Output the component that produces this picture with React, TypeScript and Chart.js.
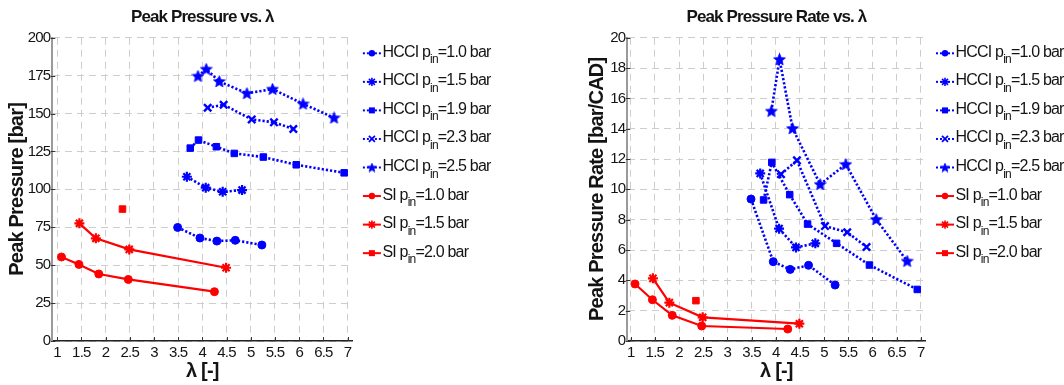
import React, { useEffect, useRef } from 'react';
import { Chart, registerables } from 'chart.js';

Chart.register(...registerables);

const FONT = "'Liberation Sans', Arial, Helvetica, sans-serif";
const BLUE = '#0000ff';
const RED = '#ff0000';
const TEXT = '#141414';

// ---- data (λ, peak pressure [bar], peak pressure rate [bar/CAD]) ----
const hcci10Lambda = [3.49, 3.95, 4.30, 4.68, 5.23];
const hcci10Pmax = [74.9, 67.9, 65.9, 66.4, 63.3];
const hcci10Rate = [9.36, 5.23, 4.72, 4.99, 3.69];

const hcci15Lambda = [3.68, 4.07, 4.42, 4.82];
const hcci15Pmax = [108.3, 101.1, 98.4, 99.5];
const hcci15Rate = [11.05, 7.41, 6.17, 6.44];

const hcci19Lambda = [3.75, 3.92, 4.29, 4.66, 5.26, 5.94, 6.93];
const hcci19Pmax = [127.2, 132.5, 128.1, 123.7, 121.3, 116.2, 110.9];
const hcci19Rate = [9.30, 11.78, 9.65, 7.71, 6.44, 5.01, 3.40];

const hcci23Lambda = [4.11, 4.44, 5.02, 5.48, 5.88];
const hcci23Pmax = [153.8, 155.8, 146.1, 144.2, 139.8];
const hcci23Rate = [11.0, 11.91, 7.58, 7.17, 6.20];

const hcci25Lambda = [3.91, 4.08, 4.35, 4.92, 5.45, 6.08, 6.72];
const hcci25Pmax = [174.7, 179.3, 171.2, 163.3, 166.1, 156.4, 147.2];
const hcci25Rate = [15.16, 18.57, 14.02, 10.33, 11.65, 8.02, 5.27];

const si10Lambda = [1.09, 1.45, 1.86, 2.47, 4.25];
const si10Pmax = [55.4, 50.5, 44.2, 40.6, 32.5];
const si10Rate = [3.76, 2.72, 1.69, 0.99, 0.79];

const si15Lambda = [1.46, 1.80, 2.49, 4.49];
const si15Pmax = [77.6, 67.7, 60.4, 48.3];
const si15Rate = [4.13, 2.53, 1.56, 1.14];

const si20Lambda = [2.35];
const si20Pmax = [87.0];
const si20Rate = [2.66];

const seriesNames = ['HCCI', 'HCCI', 'HCCI', 'HCCI', 'HCCI', 'SI', 'SI', 'SI'];
const seriesPin = ['1.0', '1.5', '1.9', '2.3', '2.5', '1.0', '1.5', '2.0'];

const xTickStep = 0.5;
const xMaxValue = 7.1;
const pressureMax = 200;
const pressureStep = 25;
const rateMax = 20;
const rateStep = 2;

type Marker = 'circle' | 'asterisk' | 'square' | 'x' | 'star5';

interface Series {
  name: string;
  pin: string;
  lambda: number[];
  pmax: number[];
  rate: number[];
  color: string;
  dotted: boolean;
  marker: Marker;
}

const SERIES: Series[] = [
  { name: seriesNames[0], pin: seriesPin[0], lambda: hcci10Lambda, pmax: hcci10Pmax, rate: hcci10Rate, color: BLUE, dotted: true, marker: 'circle' },
  { name: seriesNames[1], pin: seriesPin[1], lambda: hcci15Lambda, pmax: hcci15Pmax, rate: hcci15Rate, color: BLUE, dotted: true, marker: 'asterisk' },
  { name: seriesNames[2], pin: seriesPin[2], lambda: hcci19Lambda, pmax: hcci19Pmax, rate: hcci19Rate, color: BLUE, dotted: true, marker: 'square' },
  { name: seriesNames[3], pin: seriesPin[3], lambda: hcci23Lambda, pmax: hcci23Pmax, rate: hcci23Rate, color: BLUE, dotted: true, marker: 'x' },
  { name: seriesNames[4], pin: seriesPin[4], lambda: hcci25Lambda, pmax: hcci25Pmax, rate: hcci25Rate, color: BLUE, dotted: true, marker: 'star5' },
  { name: seriesNames[5], pin: seriesPin[5], lambda: si10Lambda, pmax: si10Pmax, rate: si10Rate, color: RED, dotted: false, marker: 'circle' },
  { name: seriesNames[6], pin: seriesPin[6], lambda: si15Lambda, pmax: si15Pmax, rate: si15Rate, color: RED, dotted: false, marker: 'asterisk' },
  { name: seriesNames[7], pin: seriesPin[7], lambda: si20Lambda, pmax: si20Pmax, rate: si20Rate, color: RED, dotted: false, marker: 'square' },
];

function makeStarCanvas(color: string, size: number): HTMLCanvasElement {
  const c = document.createElement('canvas');
  c.width = size;
  c.height = size;
  const g = c.getContext('2d')!;
  const cx = size / 2;
  const cy = size / 2 + 0.4;
  const R = size / 2 - 0.3;
  const r = R * 0.45;
  g.beginPath();
  for (let k = 0; k < 10; k++) {
    const a = -Math.PI / 2 + (k * Math.PI) / 5;
    const rad = k % 2 === 0 ? R : r;
    const px = cx + rad * Math.cos(a);
    const py = cy + rad * Math.sin(a);
    if (k === 0) g.moveTo(px, py);
    else g.lineTo(px, py);
  }
  g.closePath();
  g.fillStyle = color;
  g.fill();
  g.strokeStyle = color;
  g.lineWidth = 0.8;
  g.stroke();
  return c;
}

function drawLegendMarker(ctx: CanvasRenderingContext2D, marker: Marker, x: number, y: number, color: string, star: HTMLCanvasElement) {
  ctx.save();
  ctx.fillStyle = color;
  ctx.strokeStyle = color;
  ctx.setLineDash([]);
  if (marker === 'circle') {
    ctx.beginPath();
    ctx.arc(x, y, 3.2, 0, Math.PI * 2);
    ctx.fill();
  } else if (marker === 'square') {
    ctx.fillRect(x - 3, y - 3, 6, 6);
  } else if (marker === 'asterisk') {
    ctx.lineWidth = 1.6;
    const r = 4.2;
    ctx.beginPath();
    for (let k = 0; k < 4; k++) {
      const a = (k * Math.PI) / 4;
      ctx.moveTo(x - r * Math.cos(a), y - r * Math.sin(a));
      ctx.lineTo(x + r * Math.cos(a), y + r * Math.sin(a));
    }
    ctx.stroke();
  } else if (marker === 'x') {
    ctx.lineWidth = 1.8;
    const d = 3;
    ctx.beginPath();
    ctx.moveTo(x - d, y - d);
    ctx.lineTo(x + d, y + d);
    ctx.moveTo(x - d, y + d);
    ctx.lineTo(x + d, y - d);
    ctx.stroke();
  } else {
    ctx.drawImage(star, x - star.width / 2, y - star.height / 2);
  }
  ctx.restore();
}

function pointProps(marker: Marker, star: HTMLCanvasElement): any {
  switch (marker) {
    case 'circle':
      return { pointStyle: 'circle', pointRadius: 4, pointBorderWidth: 1 };
    case 'asterisk':
      return { pointStyle: 'star', pointRadius: 5, pointBorderWidth: 2.2 };
    case 'square':
      return { pointStyle: 'rect', pointRadius: 4.6, pointBorderWidth: 1 };
    case 'x':
      return { pointStyle: 'crossRot', pointRadius: 5.2, pointBorderWidth: 2.4 };
    default:
      return { pointStyle: star, pointRadius: 6, pointBorderWidth: 0 };
  }
}

interface PanelConfig {
  title: string;
  yTitle: string;
  valueKey: 'pmax' | 'rate';
  yMax: number;
  yStep: number;
  xMin: number;
  yAxisWidth: number;
  yTitlePad: number;
  padRight: number;
}

function buildChart(canvas: HTMLCanvasElement, cfg: PanelConfig): Chart {
  const starBig = makeStarCanvas(BLUE, 13);
  const starSmall = makeStarCanvas(BLUE, 10);

  const datasets = SERIES.map((s) => ({
    label: `${s.name} p_in=${s.pin} bar`,
    data: s.lambda.map((x, i) => ({ x, y: s[cfg.valueKey][i] })),
    showLine: s.lambda.length > 1,
    borderColor: s.color,
    backgroundColor: s.color,
    pointBackgroundColor: s.color,
    pointBorderColor: s.color,
    borderWidth: s.dotted ? 2.6 : 2.2,
    borderDash: s.dotted ? [2.2, 2] : [],
    tension: 0,
    clip: false as any,
    ...pointProps(s.marker, starBig),
  }));

  const overlay = {
    id: 'overlay',
    beforeDraw(chart: any) {
      chart.ctx.letterSpacing = '-0.8px';
    },
    afterDraw(chart: any) {
      const ctx: CanvasRenderingContext2D = chart.ctx;
      const ca = chart.chartArea;
      const xs = chart.scales.x;
      const ys = chart.scales.y;
      ctx.save();
      ctx.setLineDash([]);
      // inward tick marks
      ctx.strokeStyle = '#333';
      ctx.lineWidth = 1;
      xs.ticks.forEach((t: any) => {
        const px = Math.round(xs.getPixelForValue(t.value)) + 0.5;
        ctx.beginPath();
        ctx.moveTo(px, ca.bottom);
        ctx.lineTo(px, ca.bottom - 4);
        ctx.stroke();
      });
      ys.ticks.forEach((t: any) => {
        const py = Math.round(ys.getPixelForValue(t.value)) + 0.5;
        ctx.beginPath();
        ctx.moveTo(ca.left - 1.5, py);
        ctx.lineTo(ca.left + 3, py);
        ctx.stroke();
      });
      // title
      (ctx as any).letterSpacing = '-0.9px';
      ctx.font = `bold 17px ${FONT}`;
      ctx.fillStyle = TEXT;
      ctx.textAlign = 'center';
      ctx.textBaseline = 'middle';
      ctx.fillText(cfg.title, (ca.left + ca.right) / 2, 17.5);
      // legend
      (ctx as any).letterSpacing = '-0.8px';
      SERIES.forEach((s, i) => {
        const y = 53.3 + i * 28.55;
        const x0 = ca.right + 10.5;
        ctx.save();
        ctx.strokeStyle = s.color;
        ctx.lineWidth = 2;
        ctx.setLineDash(s.dotted ? [2, 2] : []);
        ctx.beginPath();
        ctx.moveTo(x0, y);
        ctx.lineTo(x0 + 18, y);
        ctx.stroke();
        ctx.restore();
        drawLegendMarker(ctx, s.marker, x0 + 9, y, s.color, starSmall);
        ctx.textAlign = 'left';
        ctx.textBaseline = 'alphabetic';
        ctx.fillStyle = TEXT;
        let tx = ca.right + 30;
        ctx.font = `16px ${FONT}`;
        const t1 = `${s.name} p`;
        ctx.fillText(t1, tx, y + 3.5);
        tx += ctx.measureText(t1).width;
        ctx.font = `12px ${FONT}`;
        ctx.fillText('in', tx, y + 10);
        tx += ctx.measureText('in').width;
        ctx.font = `16px ${FONT}`;
        ctx.fillText(`=${s.pin} bar`, tx, y + 3.5);
      });
      ctx.restore();
    },
  };

  return new Chart(canvas, {
    type: 'scatter',
    data: { datasets: datasets as any },
    options: {
      responsive: false,
      animation: false,
      devicePixelRatio: 1,
      events: [],
      layout: { padding: { left: 0, right: cfg.padRight, top: 37.7, bottom: 0 } },
      plugins: {
        legend: { display: false },
        tooltip: { enabled: false },
        title: { display: false },
      },
      scales: {
        x: {
          type: 'linear',
          min: cfg.xMin,
          max: xMaxValue,
          afterFit: (s: any) => {
            s.height = 44;
          },
          ticks: {
            stepSize: xTickStep,
            includeBounds: false,
            autoSkip: false,
            maxRotation: 0,
            padding: 3,
            color: TEXT,
            font: { family: FONT, size: 15 },
            callback: (v: any) => `${Number(v)}`,
          },
          grid: { color: '#cdcdcd', lineWidth: 1, drawTicks: false },
          border: { display: true, color: '#222', width: 1.5, dash: [7, 5] },
          title: {
            display: true,
            text: 'λ [-]',
            color: TEXT,
            font: { family: FONT, size: 20, weight: 'bold' },
            padding: { top: 0, bottom: 2 },
          },
        } as any,
        y: {
          type: 'linear',
          min: 0,
          max: cfg.yMax,
          afterFit: (s: any) => {
            s.width = cfg.yAxisWidth;
          },
          ticks: {
            stepSize: cfg.yStep,
            autoSkip: false,
            padding: 2,
            color: TEXT,
            font: { family: FONT, size: 15 },
            callback: (v: any) => `${Number(v)}`,
          },
          grid: { color: '#cdcdcd', lineWidth: 1, drawTicks: false },
          border: { display: true, color: '#9a9a9a', width: 2, dash: [7, 5] },
          title: {
            display: true,
            text: cfg.yTitle,
            color: TEXT,
            font: { family: FONT, size: 20, weight: 'bold' },
            padding: { top: cfg.yTitlePad, bottom: 0 },
          },
        } as any,
      },
    },
    plugins: [overlay as any],
  });
}

export default function App() {
  const leftRef = useRef<HTMLCanvasElement>(null);
  const rightRef = useRef<HTMLCanvasElement>(null);

  useEffect(() => {
    const charts: Chart[] = [];
    if (leftRef.current) {
      charts.push(
        buildChart(leftRef.current, {
          title: 'Peak Pressure vs. λ',
          yTitle: 'Peak Pressure [bar]',
          valueKey: 'pmax',
          yMax: pressureMax,
          yStep: pressureStep,
          xMin: 0.9,
          yAxisWidth: 52.3,
          yTitlePad: 5.5,
          padRight: 179.6,
        })
      );
    }
    if (rightRef.current) {
      charts.push(
        buildChart(rightRef.current, {
          title: 'Peak Pressure Rate vs. λ',
          yTitle: 'Peak Pressure Rate [bar/CAD]',
          valueKey: 'rate',
          yMax: rateMax,
          yStep: rateStep,
          xMin: 0.93,
          yAxisWidth: 95.3,
          yTitlePad: 53.5,
          padRight: 138.5,
        })
      );
    }
    return () => charts.forEach((c) => c.destroy());
  }, []);

  return (
    <div style={{ position: 'absolute', left: 0, top: 0, width: 1064, height: 385, background: '#fff' }}>
      <canvas ref={leftRef} width={532} height={385} style={{ position: 'absolute', left: 0, top: 0, width: 532, height: 385 }} />
      <canvas ref={rightRef} width={532} height={385} style={{ position: 'absolute', left: 532, top: 0, width: 532, height: 385 }} />
    </div>
  );
}
